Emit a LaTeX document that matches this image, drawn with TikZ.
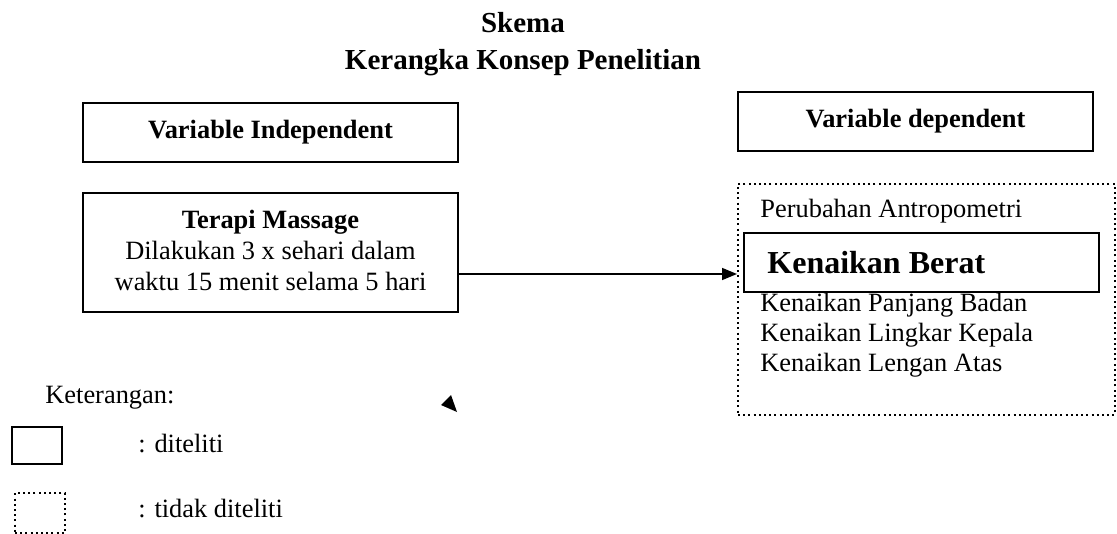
\documentclass[tikz,border=0pt]{standalone}
\usepackage{fontspec}
\setmainfont{Liberation Serif}
\usetikzlibrary{arrows.meta}

\begin{document}
\begin{tikzpicture}[x=0.5pt,y=-0.5pt,
  kotak/.style={draw=black, line width=1pt, rectangle},
  titik/.style={draw=black, line width=1pt, dash pattern=on 1pt off 1.6pt, rectangle},
  teks/.style={font=\fontsize{13.2}{15.5}\selectfont},
  tebal/.style={font=\fontsize{13.2}{15.5}\selectfont\bfseries},
  judul/.style={font=\fontsize{14.5}{17.5}\selectfont\bfseries}]
\tikzstyle{every node}+=[inner sep=0pt]
\useasboundingbox (0,0) rectangle (1117,534);
\node [judul, anchor=base] (skema) at (523,33) {Skema};
\node [judul, anchor=base] (kerangka) at (523,70) {Kerangka Konsep Penelitian};
\node [kotak, tebal, minimum width=187.5pt, minimum height=29.5pt] (indep) at (270.5,132.5) {Variable Independent};
\node [kotak, minimum width=187.5pt, minimum height=59.5pt] (terapi) at (270.5,252.5) {};
\node [teks, anchor=base, align=center] (terapiteks) at (270.5,290) {\textbf{Terapi Massage}\\Dilakukan 3 x sehari dalam\\waktu 15 menit selama 5 hari};
\node [kotak, tebal, minimum width=177.5pt, minimum height=29.5pt] (dep) at (915.5,121.5) {Variable dependent};
\node [titik, minimum width=188.5pt, minimum height=115.5pt] (antro) at (926.5,299.5) {};
\node [kotak, minimum width=177.5pt, minimum height=29.5pt] (berat) at (921.5,262.5) {};
\node [font=\fontsize{16}{19}\selectfont\bfseries, anchor=base west] (beratteks) at (767,273) {Kenaikan Berat};
\node [teks, anchor=base west] (perubahan) at (760,218) {Perubahan Antropometri};
\node [teks, anchor=base west] (panjang) at (760,311) {Kenaikan Panjang Badan};
\node [teks, anchor=base west] (lingkar) at (760,341) {Kenaikan Lingkar Kepala};
\node [teks, anchor=base west] (lengan) at (760,371) {Kenaikan Lengan Atas};
\coordinate (panah) at (600,274);
\draw [black, line width=0.8pt, -{Triangle[length=7.5pt,width=6pt]}] (terapi.east |- panah) -- (antro.west |- panah);
\fill [black] (451,395) -- (441,405) -- (457,412) -- cycle;
\node [teks, anchor=base west] (ket) at (45,403) {Keterangan:};
\node [kotak, minimum width=25pt, minimum height=18.5pt] (ketkotak) at (37,445.5) {};
\node [teks, anchor=base west] (diteliti) at (138,452) {: diteliti};
\node [titik, minimum width=25pt, minimum height=20pt] (kettitik) at (40,513) {};
\node [teks, anchor=base west] (tidak) at (138,517) {: tidak diteliti};
\end{tikzpicture}
\end{document}
